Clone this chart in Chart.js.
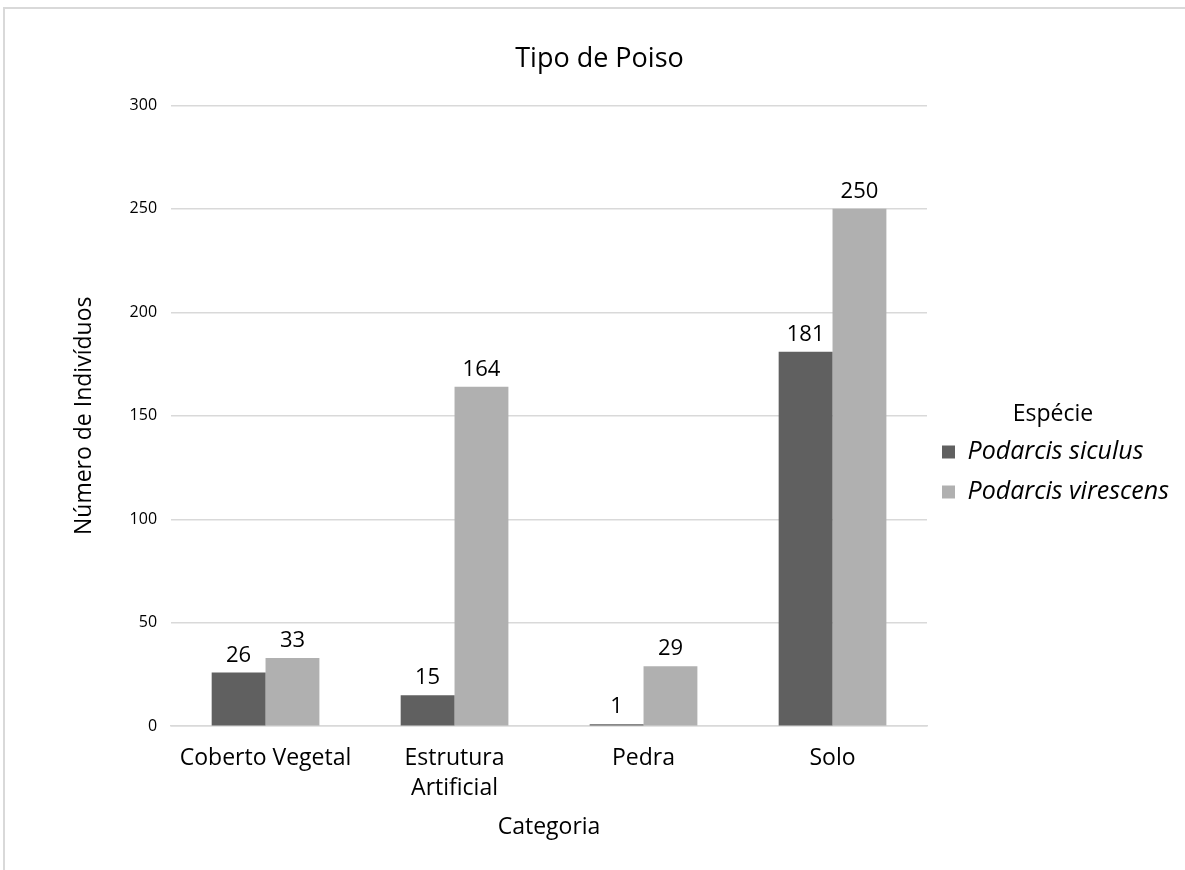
<!DOCTYPE html>
<html>
<head>
<meta charset="utf-8">
<script src="https://cdn.jsdelivr.net/npm/chart.js@4.4.1/dist/chart.umd.min.js"></script>
<style>
    html, body { margin: 0; padding: 0; background: #fff; }
    #wrap { position: absolute; left: 0; top: 0; width: 1185px; height: 870px; }
    #frame { position: absolute; left: 3px; top: 7px; width: 1200px; height: 900px; border: 2px solid #d9d9d9; box-sizing: border-box; }
    canvas { position: absolute; left: 0; top: 0; }
</style>
</head>
<body>
<div id="wrap">
    <div id="frame"></div>
    <canvas id="chart" width="1185" height="870"></canvas>
</div>
<script>
const categories = ['Coberto Vegetal', ['Estrutura', 'Artificial'], 'Pedra', 'Solo'];
const siculus = [26, 15, 1, 181];
const virescens = [33, 164, 29, 250];
const seriesNames = ['Podarcis siculus', 'Podarcis virescens'];

const FONT = '"Open Sans", "Noto Sans", sans-serif';

// draws the value above each bar
const barLabels = {
    id: 'barLabels',
    afterDatasetsDraw(chart) {
        const ctx = chart.ctx;
        ctx.save();
        ctx.font = '22px ' + FONT;
        ctx.fillStyle = '#000';
        ctx.textAlign = 'center';
        ctx.textBaseline = 'bottom';
        chart.data.datasets.forEach((ds, i) => {
            chart.getDatasetMeta(i).data.forEach((bar, j) => {
                ctx.fillText(ds.data[j], bar.x, bar.y - 6);
            });
        });
        ctx.restore();
    }
};

new Chart(document.getElementById('chart').getContext('2d'), {
    type: 'bar',
    data: {
        labels: categories,
        datasets: [{
            label: seriesNames[0],
            data: siculus,
            backgroundColor: '#606060'
        }, {
            label: seriesNames[1],
            data: virescens,
            backgroundColor: '#b0b0b0'
        }]
    },
    options: {
        responsive: false,
        animation: false,
        categoryPercentage: 0.57,
        barPercentage: 1,
        layout: { padding: { left: 20, right: 6, top: 43, bottom: 31 } },
        scales: {
            y: {
                min: 0,
                max: 300,
                ticks: { stepSize: 50, color: '#000', font: { size: 16, family: FONT }, padding: 14 },
                grid: { color: '#d9d9d9', lineWidth: 1.5, drawTicks: false },
                border: { display: false },
                title: { display: true, text: 'Número de Indivíduos', color: '#000', font: { size: 23, family: FONT }, padding: { top: 51, bottom: 17 } }
            },
            x: {
                ticks: { color: '#000', font: { size: 23, family: FONT, lineHeight: 1.3 }, padding: 17, maxRotation: 0 },
                grid: { display: false, drawTicks: false },
                border: { color: '#d9d9d9', width: 1.5 },
                title: { display: true, text: 'Categoria', color: '#000', font: { size: 23, family: FONT, lineHeight: 1 }, padding: { top: -4, bottom: 0 } }
            }
        },
        plugins: {
            title: {
                display: true,
                text: 'Tipo de Poiso',
                color: '#000',
                font: { size: 27, family: FONT, weight: 'normal' },
                padding: { bottom: 30 }
            },
            legend: {
                position: 'right',
                align: 'center',
                title: { display: true, text: 'Espécie', color: '#000', font: { size: 23, family: FONT, lineHeight: 1 }, padding: { top: 40, bottom: -1 } },
                labels: {
                    color: '#000',
                    font: { size: 25, family: FONT, style: 'italic' },
                    boxWidth: 13,
                    boxHeight: 13,
                    padding: 15
                }
            },
            tooltip: { enabled: false }
        }
    },
    plugins: [barLabels]
});
</script>
</body>
</html>
